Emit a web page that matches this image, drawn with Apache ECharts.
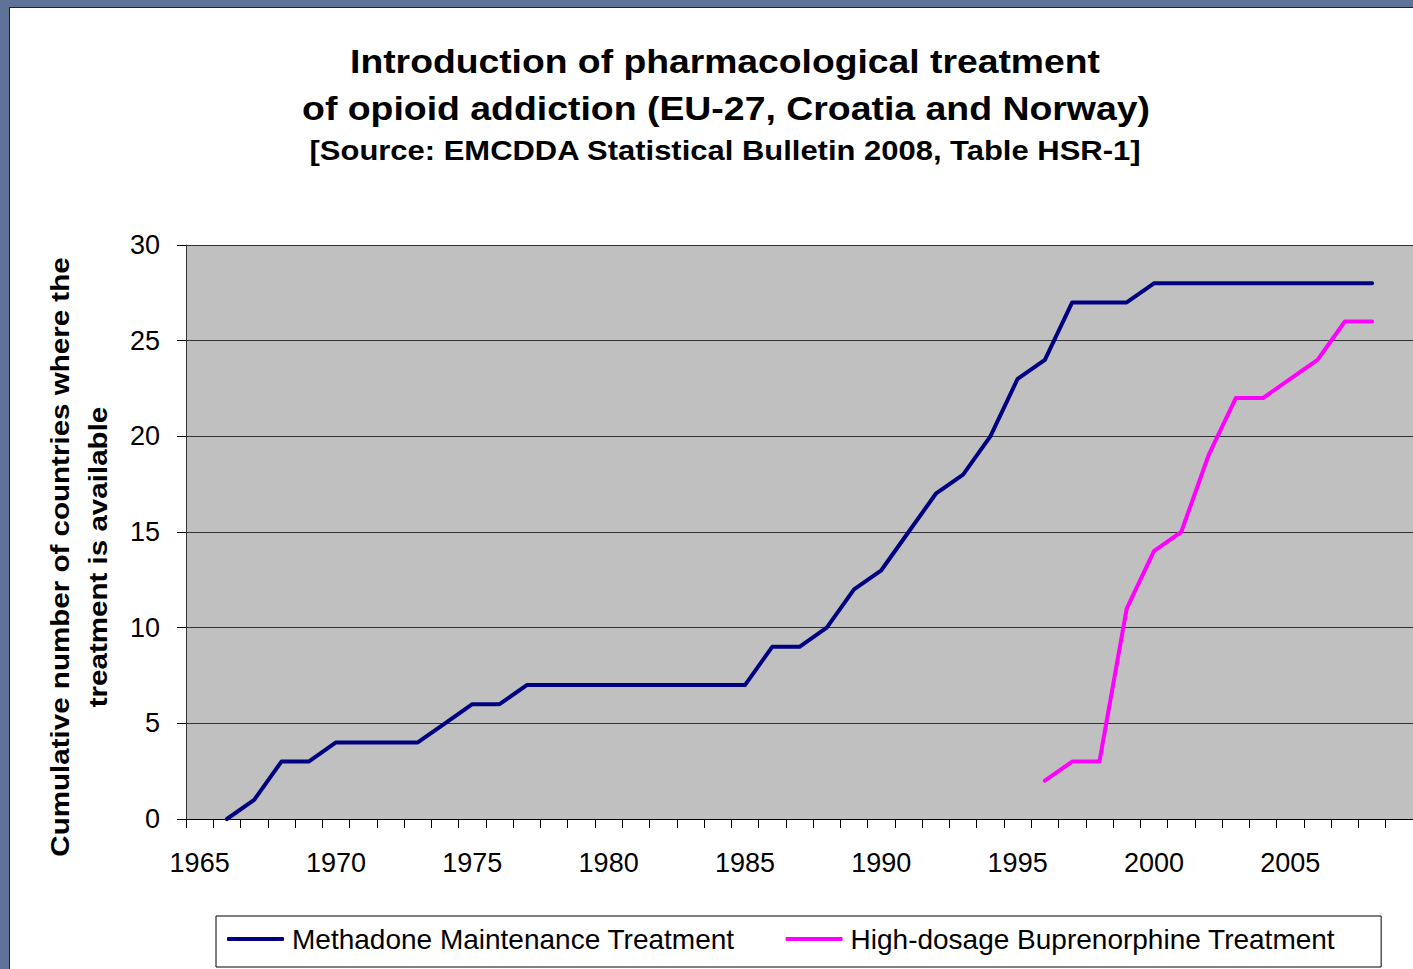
<!DOCTYPE html>
<html>
<head>
<meta charset="utf-8">
<script src="https://cdn.jsdelivr.net/npm/echarts@6/dist/echarts.min.js"></script>
<style>
  html, body { margin: 0; padding: 0; width: 1413px; height: 969px; overflow: hidden; background: #5f7297; }
  #frame { position: absolute; left: 9px; top: 7px; width: 1404px; height: 962px; background: #ffffff; border-left: 1px solid #222; border-top: 1px solid #222; }
  #chart { position: absolute; left: 0; top: 0; width: 1413px; height: 969px; }
</style>
</head>
<body>
<div id="frame"></div>
<div id="chart"></div>
<script>
// ---- data ----
const years = [];
for (let y = 1965; y <= 2009; y++) years.push(String(y));

const methadone = [
  null, // 1965
  0, 1, 3, 3, 4, 4, 4, 4, 5, 6, 6, 7, 7, 7, 7, 7, 7, 7, 7, 7, // 1966-1985
  9, 9, 10, 12, 13, 15, 17, 18, 20, 23, 24, 27, 27, 27, 28, // 1986-2000
  28, 28, 28, 28, 28, 28, 28, 28, // 2001-2008
  null // 2009
];
const buprenorphine = [
  null, null, null, null, null, null, null, null, null, null, // 1965-1974
  null, null, null, null, null, null, null, null, null, null, // 1975-1984
  null, null, null, null, null, null, null, null, null, null, // 1985-1994
  null, 2, 3, 3, 11, 14, 15, 19, 22, 22, 23, 24, 26, 26, // 1995-2008
  null // 2009
];
const yTicks = { min: 0, max: 30, interval: 5 };
const seriesNames = ['Methadone Maintenance Treatment', 'High-dosage Buprenorphine Treatment'];
const titleLines = [
  'Introduction of pharmacological treatment',
  'of opioid addiction (EU-27, Croatia and Norway)',
  '[Source: EMCDDA Statistical Bulletin 2008, Table HSR-1]'
];
const yAxisTitle = 'Cumulative number of countries where the\ntreatment is available';

// ---- chart ----
const FONT = '"Liberation Sans", Arial, Helvetica, sans-serif';
const chart = echarts.init(document.getElementById('chart'), null, { renderer: 'svg' });
chart.setOption({
  backgroundColor: 'transparent',
  animation: false,
  textStyle: { fontFamily: FONT, color: '#000' },
  graphic: [
    { type: 'text', x: 725, y: 61, scaleX: 1.13, style: { text: titleLines[0], font: 'bold 33px ' + FONT, fill: '#000', textAlign: 'center', textVerticalAlign: 'middle' } },
    { type: 'text', x: 726, y: 108, scaleX: 1.134, style: { text: titleLines[1], font: 'bold 33px ' + FONT, fill: '#000', textAlign: 'center', textVerticalAlign: 'middle' } },
    { type: 'text', x: 725, y: 150, scaleX: 1.106, style: { text: titleLines[2], font: 'bold 28px ' + FONT, fill: '#000', textAlign: 'center', textVerticalAlign: 'middle' } },
    { type: 'text', x: 79, y: 557, rotation: Math.PI / 2, scaleX: 1.137, style: { text: yAxisTitle, font: 'bold 26px ' + FONT, fill: '#000', textAlign: 'center', textVerticalAlign: 'middle', lineHeight: 38 } }
  ],
  grid: { left: 186, top: 245, width: 1229, height: 574, show: true, backgroundColor: '#c0c0c0', borderWidth: 0 },
  legend: {
    left: 216, top: 916,
    padding: [9, 46, 14, 11],
    borderColor: '#000', borderWidth: 1,
    icon: 'roundRect',
    itemWidth: 57, itemHeight: 4, itemGap: 51,
    textStyle: { fontSize: 28, color: '#000', fontFamily: FONT, padding: [0, 0, 0, 3] },
    data: seriesNames
  },
  xAxis: {
    type: 'category',
    data: years,
    boundaryGap: true,
    axisLine: { show: true, lineStyle: { color: '#000', width: 1 } },
    axisTick: { show: true, interval: 0, length: 9, lineStyle: { color: '#000' } },
    axisLabel: { interval: 4, fontSize: 27, color: '#000', margin: 30, fontFamily: FONT },
    splitLine: { show: false }
  },
  yAxis: {
    type: 'value',
    min: yTicks.min, max: yTicks.max, interval: yTicks.interval,
    axisLine: { show: true, lineStyle: { color: '#333', width: 1 } },
    axisTick: { show: true, length: 9, lineStyle: { color: '#000' } },
    axisLabel: { fontSize: 27, color: '#000', margin: 26, fontFamily: FONT },
    splitLine: { show: true, lineStyle: { color: '#333', width: 1 } }
  },
  series: [
    { name: seriesNames[0], type: 'line', data: methadone, symbol: 'none', connectNulls: false,
      lineStyle: { color: '#000080', width: 4, cap: 'round', join: 'round' }, itemStyle: { color: '#000080' } },
    { name: seriesNames[1], type: 'line', data: buprenorphine, symbol: 'none', connectNulls: false,
      lineStyle: { color: '#ff00ff', width: 4, cap: 'round', join: 'round' }, itemStyle: { color: '#ff00ff' } }
  ]
});
</script>
</body>
</html>
